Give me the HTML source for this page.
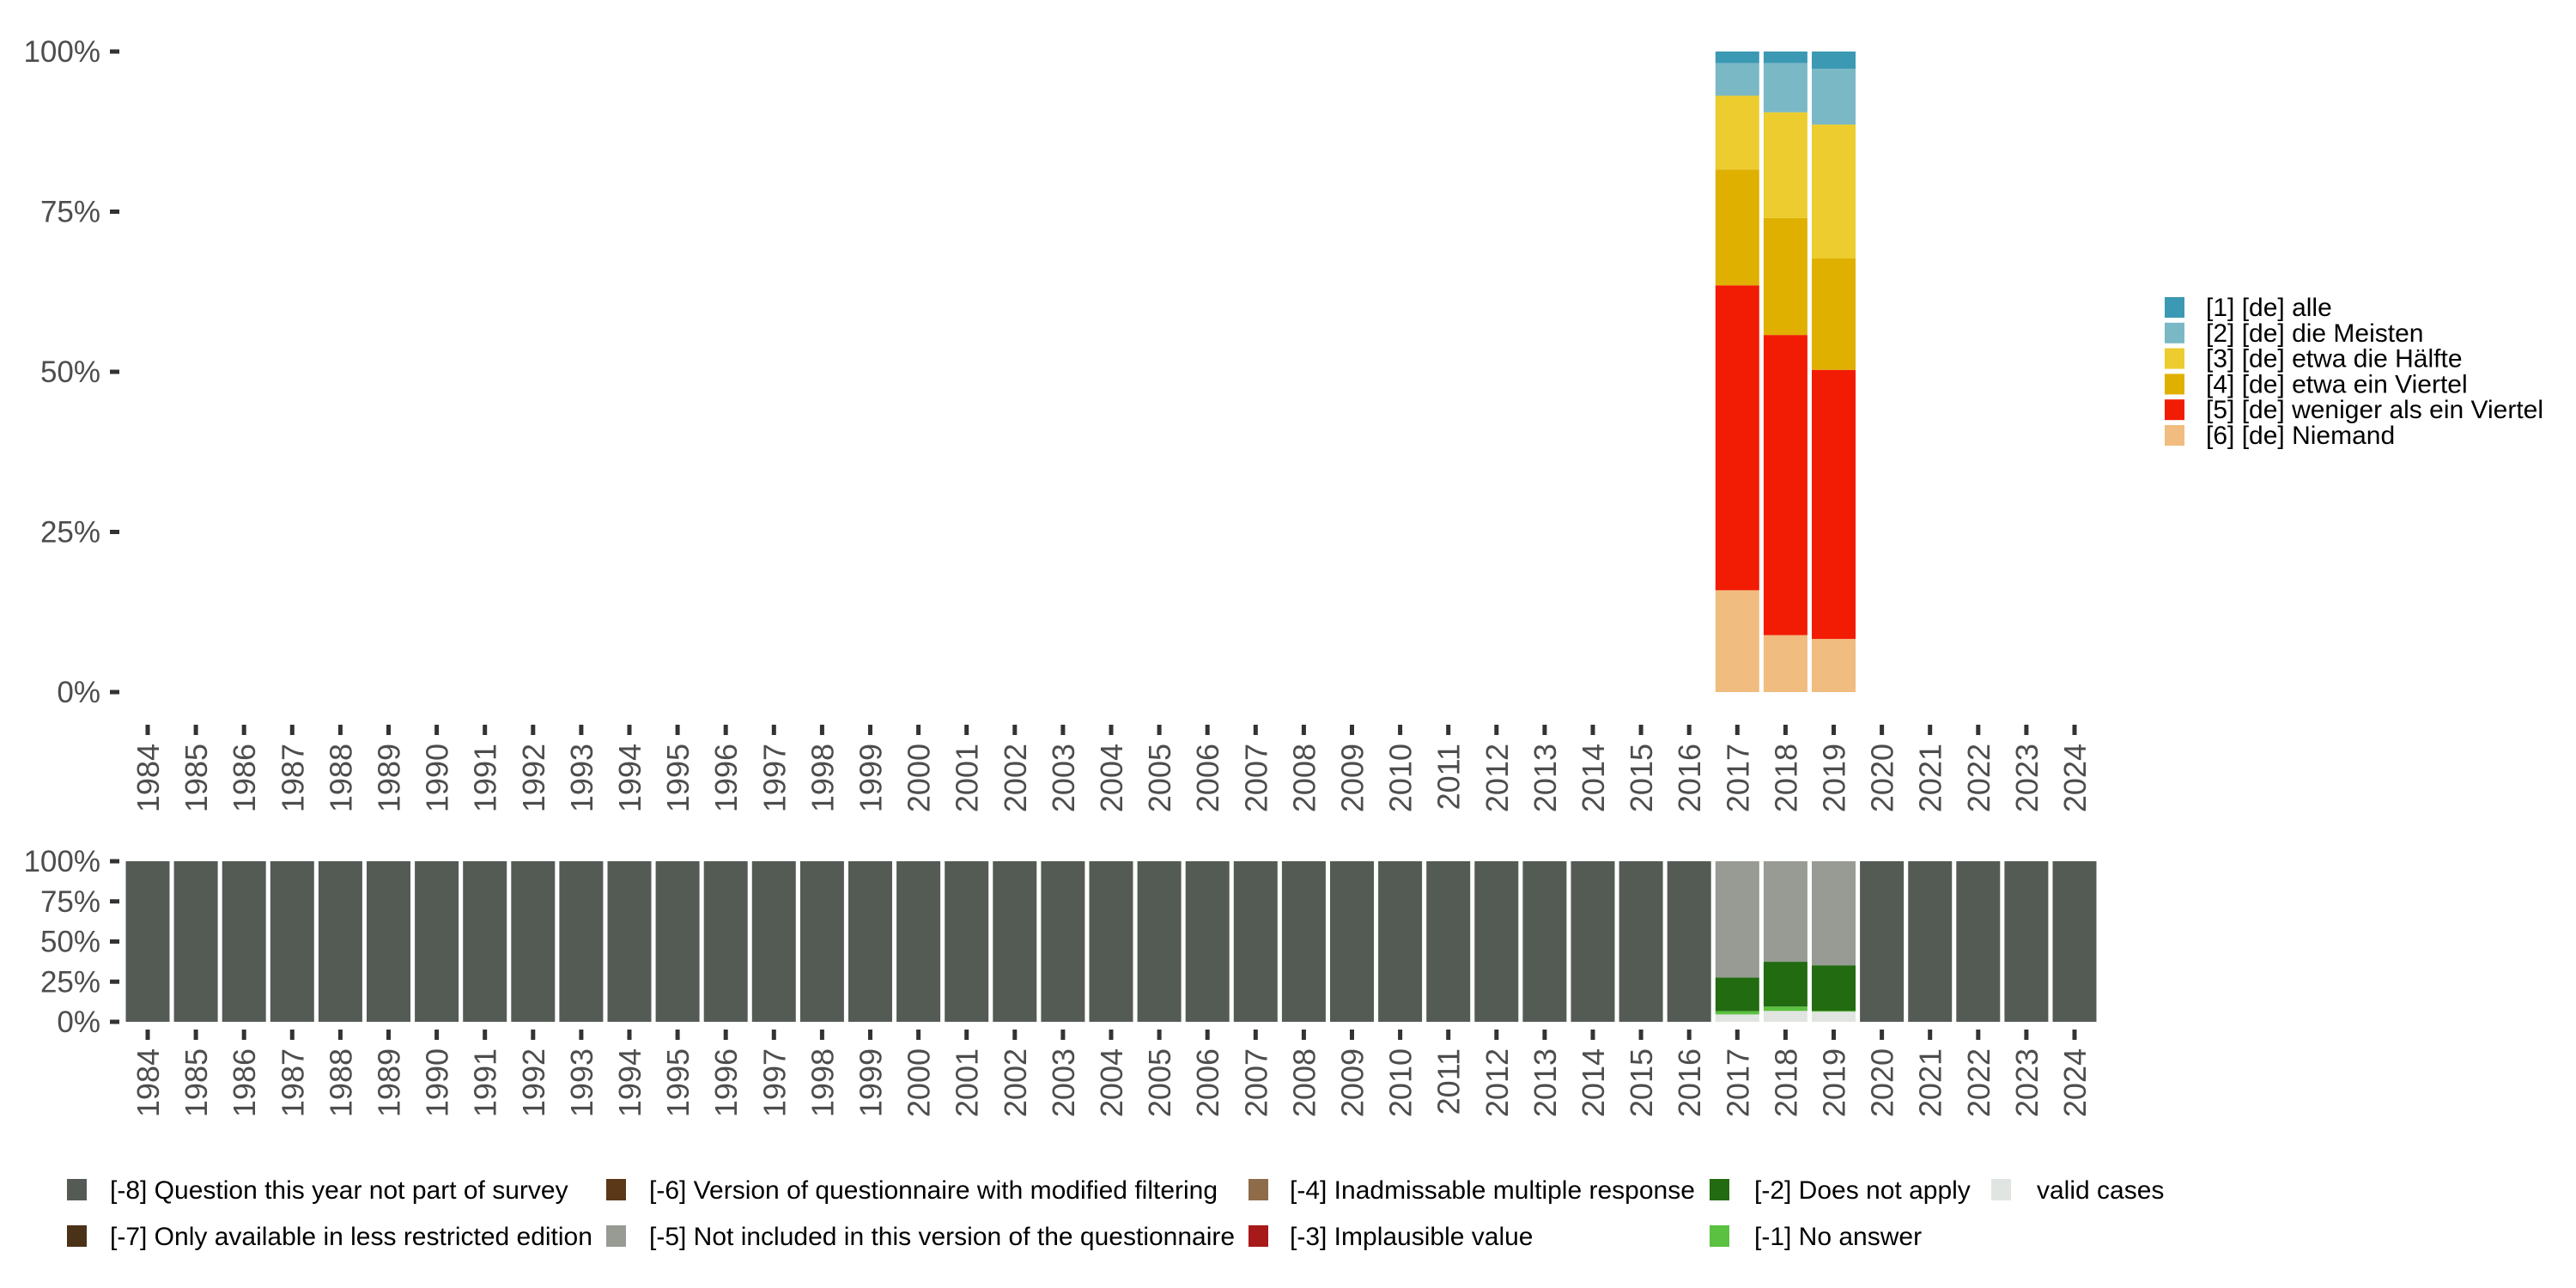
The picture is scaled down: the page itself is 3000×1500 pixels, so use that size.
<!DOCTYPE html>
<html><head><meta charset="utf-8"><style>
html,body{margin:0;padding:0;background:#fff;}
svg{display:block;font-family:"Liberation Sans",sans-serif;}
</style></head><body>
<svg id="chart" width="3000" height="1500" viewBox="0 0 3000 1500" xmlns="http://www.w3.org/2000/svg"></svg>
<script>
const years = [];
for (let y = 1984; y <= 2024; y++) years.push(y);
const topYears = [2017, 2018, 2019];
const topCategories = ["[1] [de] alle","[2] [de] die Meisten","[3] [de] etwa die Hälfte","[4] [de] etwa ein Viertel","[5] [de] weniger als ein Viertel","[6] [de] Niemand"];
const topColors = ["#3C99B3","#7AB8C6","#ECCC2E","#E0B000","#F21B04","#F1BC7F"];
// values per year, ordered bottom (Niemand) -> top (alle)
const niemand = [15.9, 8.9, 8.3];
const weniger = [47.6, 46.9, 42.0];
const viertel = [18.1, 18.3, 17.4];
const haelfte = [11.5, 16.5, 20.9];
const meisten = [5.1, 7.7, 8.7];
const alle = [1.8, 1.8, 2.7];
const yTickLabels = ["0%","25%","50%","75%","100%"];
const yTickValues = [0,25,50,75,100];

const botCategories = ["[-8] Question this year not part of survey","[-7] Only available in less restricted edition","[-6] Version of questionnaire with modified filtering","[-5] Not included in this version of the questionnaire","[-4] Inadmissable multiple response","[-3] Implausible value","[-2] Does not apply","[-1] No answer","valid cases"];
const botColors = ["#545B55","#4A3219","#5A3818","#979B94","#8E6C4A","#A8191A","#226B11","#5BC140","#E1E5E1"];
const validCases = [4.6, 6.8, 6.3];
const noAnswer = [2.1, 2.7, 0.5];
const doesNotApply = [20.9, 27.9, 28.4];
const notIncluded = [72.4, 62.6, 64.8];

const svg = document.getElementById('chart');
const NS = "http://www.w3.org/2000/svg";
function mk(tag, attrs, parent){const e=document.createElementNS(NS,tag);for(const k in attrs)e.setAttribute(k,attrs[k]);(parent||svg).appendChild(e);return e;}

const x0 = 172, step = 56.1, barW = 51;
function xScale(year){return x0 + (year-1984)*step;}
const topP = {y0:806, y1:60};
const botP = {y0:1190, y1:1003};
function yS(p, v){return p.y0 - (p.y0-p.y1)*v/100;}

function axes(p, tickY, labelTop, prefix){
  const g = mk('g',{});
  
  
  yTickValues.forEach((v,i)=>{
    const y = yS(p,v);
    const t = mk('rect',{x:128,y:y-2.5,width:11,height:5,fill:'#333'},g);
    
    
    const l = mk('text',{x:117,y:y+12,'text-anchor':'end','font-size':35,fill:'#4d4d4d'},g);
    l.textContent = yTickLabels[i];
    
    
  });
  years.forEach(yr=>{
    const x = xScale(yr);
    const t = mk('rect',{x:x-2.5,y:tickY,width:5,height:12,fill:'#333'},g);
    
    
    const l = mk('text',{x:0,y:0,'text-anchor':'end','font-size':36,fill:'#4d4d4d',transform:`translate(${x+13},${labelTop}) rotate(-90)`},g);
    l.textContent = yr;
    
    
  });
}
axes(topP, 844, 866, 'top');
axes(botP, 1199, 1221, 'bottom');

// top bars
const topSeries = [niemand, weniger, viertel, haelfte, meisten, alle];
const topSeriesColors = [topColors[5],topColors[4],topColors[3],topColors[2],topColors[1],topColors[0]];
topYears.forEach((yr,i)=>{
  let acc = 0;
  const tot = topSeries.reduce((s,a)=>s+a[i],0);
  topSeries.forEach((ser,k)=>{
    const v = ser[i]/tot*100;
    const yA = yS(topP, acc+v), yB = yS(topP, acc);
    const r = mk('rect',{x:xScale(yr)-barW/2,y:yA,width:barW,height:yB-yA,fill:topSeriesColors[k]});
    
    
    acc += v;
  });
});

// bottom bars
years.forEach(yr=>{
  const idx = topYears.indexOf(yr);
  let segs;
  if (idx < 0) segs = [[100, botColors[0]]];
  else segs = [[validCases[idx],botColors[8]],[noAnswer[idx],botColors[7]],[doesNotApply[idx],botColors[6]],[notIncluded[idx],botColors[3]]];
  const tot = segs.reduce((s,a)=>s+a[0],0);
  let acc = 0;
  segs.forEach(([val,col])=>{
    const v = val/tot*100;
    const yA = yS(botP, acc+v), yB = yS(botP, acc);
    const r = mk('rect',{x:xScale(yr)-barW/2,y:yA,width:barW,height:yB-yA,fill:col});
    
    
    acc += v;
  });
});

// right legend
topCategories.forEach((c,i)=>{
  const y = 358 + i*29.8;
  const k = mk('rect',{x:2521,y:y-12,width:23,height:24,fill:topColors[i]});
  
  
  const t = mk('text',{x:2569,y:y+10,'font-size':30,fill:'#000'});
  t.textContent = c;
  
  
});

// bottom legend
const legCols = [[78,128],[706,756],[1454,1502],[1991,2043],[2319,2372]];
const legRows = [1385,1439];
const legPos = [[0,0],[0,1],[1,0],[1,1],[2,0],[2,1],[3,0],[3,1],[4,0]];
botCategories.forEach((c,i)=>{
  const [ci,ri] = legPos[i];
  const y = legRows[ri];
  const k = mk('rect',{x:legCols[ci][0],y:y-12,width:23,height:25,fill:botColors[i]});
  
  
  const t = mk('text',{x:legCols[ci][1],y:y+11,'font-size':30,fill:'#000'});
  t.textContent = c;
  
  
});
</script>
</body></html>
